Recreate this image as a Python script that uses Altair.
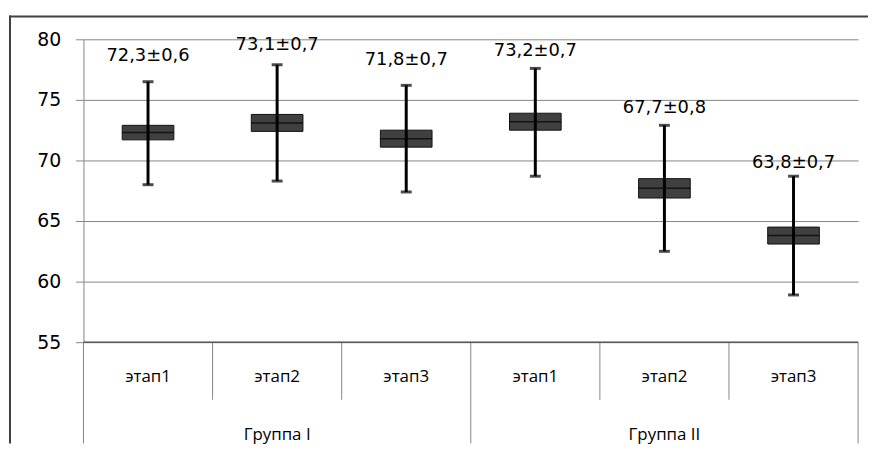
import altair as alt
import pandas as pd

# ---- data ----
groups = ["Группа I", "Группа I", "Группа I", "Группа II", "Группа II", "Группа II"]
stages = ["этап1", "этап2", "этап3", "этап1", "этап2", "этап3"]
means = [72.3, 73.1, 71.8, 73.2, 67.7, 63.8]
errs = [0.6, 0.7, 0.7, 0.7, 0.8, 0.7]
whisk_lo = [68.0, 68.3, 67.4, 68.7, 62.5, 58.9]
whisk_hi = [76.5, 77.9, 76.2, 77.6, 72.9, 68.7]
labels = ["72,3±0,6", "73,1±0,7", "71,8±0,7", "73,2±0,7", "67,7±0,8", "63,8±0,7"]
label_y = [78.6, 79.55, 78.3, 79.05, 74.35, 69.75]
y_ticks = [55, 60, 65, 70, 75, 80]
group_names = ["Группа I", "Группа II"]

keys = [f"{g}|{s}" for g, s in zip(groups, stages)]
df = pd.DataFrame({
    "key": keys, "group": groups, "stage": stages, "mean": means,
    "lo": [m - e for m, e in zip(means, errs)],
    "hi": [m + e for m, e in zip(means, errs)],
    "wlo": whisk_lo, "whi": whisk_hi, "label": labels, "ly": label_y,
})

W, H = 780, 305
TH = 102  # table height below the plot
GRID = "#868686"

xk = alt.X("key:N", sort=keys, axis=None,
           scale=alt.Scale(paddingInner=0, paddingOuter=0))
yq = alt.Scale(domain=[55, 80], nice=False, zero=False)
yaxis = alt.Axis(values=y_ticks, grid=True, gridColor=GRID, gridWidth=1,
                 domainColor=GRID, tickColor=GRID, tickSize=8,
                 labelFont="DejaVu Sans", labelFontSize=19, labelColor="#000",
                 labelPadding=15, title=None)

base = alt.Chart(df)

whisk = base.mark_rule(color="#000", strokeWidth=3).encode(
    x=xk, y=alt.Y("wlo:Q", scale=yq, axis=yaxis), y2="whi:Q")
cap_lo = base.mark_tick(color="#000", size=11, thickness=3).encode(
    x=xk, y=alt.Y("wlo:Q", scale=yq))
cap_hi = base.mark_tick(color="#000", size=11, thickness=3).encode(
    x=xk, y=alt.Y("whi:Q", scale=yq))
box = base.mark_bar(size=52, color="#404040", stroke="#111", strokeWidth=1).encode(
    x=xk, y=alt.Y("lo:Q", scale=yq), y2="hi:Q")
mid = base.mark_tick(color="#000", size=52, thickness=1.5).encode(
    x=xk, y=alt.Y("mean:Q", scale=yq))
whisk_in = base.mark_rule(color="#000", strokeWidth=3).encode(
    x=xk, y=alt.Y("lo:Q", scale=yq), y2="hi:Q")
txt = base.mark_text(font="DejaVu Sans", fontSize=18, color="#000",
                     baseline="middle", align="center").encode(
    x=xk, y=alt.Y("ly:Q", scale=yq), text="label:N")

frame_df = pd.DataFrame({"k": [0]})
frame_top = alt.Chart(frame_df).mark_rule(color="#404040", strokeWidth=2, clip=False).encode(
    x=alt.value(-75), x2=alt.value(790), y=alt.value(-23))
frame_left = alt.Chart(frame_df).mark_rule(color="#404040", strokeWidth=2, clip=False).encode(
    x=alt.value(-74), y=alt.value(-24), y2=alt.value(H + TH))

top = alt.layer(whisk, box, mid, whisk_in, cap_lo, cap_hi, txt, frame_top, frame_left).properties(
    width=W, height=H)

# ---- category table below the axis ----
n = len(stages)
stage_df = pd.DataFrame({"x": [i + 0.5 for i in range(n)], "stage": stages})
grp_df = pd.DataFrame({"x": [1.5, 4.5], "group": group_names})
sep_short = pd.DataFrame({"x": [i for i in range(1, n) if i != 3]})
sep_long = pd.DataFrame({"x": [0, 3, 6]})
top_line = pd.DataFrame({"x": [0], "x2": [6]})

tx = alt.Scale(domain=[0, n], nice=False, zero=False)
ty = alt.Scale(domain=[0, TH / 58], reverse=True, nice=False, zero=False)

t_stage = alt.Chart(stage_df).mark_text(font="Open Sans", fontSize=17, color="#000",
                                         baseline="middle").encode(
    x=alt.X("x:Q", scale=tx, axis=None), y=alt.Y("yy:Q", scale=ty, axis=None),
    text="stage:N").transform_calculate(yy="0.6")
t_group = alt.Chart(grp_df).mark_text(font="Open Sans", fontSize=17, color="#000",
                                       baseline="middle").encode(
    x=alt.X("x:Q", scale=tx, axis=None), y=alt.Y("yy:Q", scale=ty, axis=None),
    text="group:N").transform_calculate(yy="1.62")
r_short = alt.Chart(sep_short).mark_rule(color=GRID, strokeWidth=1).encode(
    x=alt.X("x:Q", scale=tx, axis=None), y=alt.Y("a:Q", scale=ty, axis=None), y2="b:Q"
).transform_calculate(a="0", b="1")
r_long = alt.Chart(sep_long).mark_rule(color=GRID, strokeWidth=1).encode(
    x=alt.X("x:Q", scale=tx, axis=None), y=alt.Y("a:Q", scale=ty, axis=None), y2="b:Q"
).transform_calculate(a="0", b=str(TH / 58))
r_top = alt.Chart(top_line).mark_rule(color="#444", strokeWidth=1.2).encode(
    x=alt.X("x:Q", scale=tx, axis=None), x2="x2:Q", y=alt.Y("a:Q", scale=ty, axis=None)
).transform_calculate(a="0")

table = alt.layer(r_long, r_short, r_top, t_stage, t_group).properties(width=W, height=TH)

chart = alt.vconcat(top, table, spacing=0, bounds="flush").properties(
    padding={"left": 0, "top": 5, "right": 0, "bottom": 0}
).configure_view(stroke=None).configure_concat(spacing=0)

chart.save("out.html", embed_options={"renderer": "svg", "actions": False})
